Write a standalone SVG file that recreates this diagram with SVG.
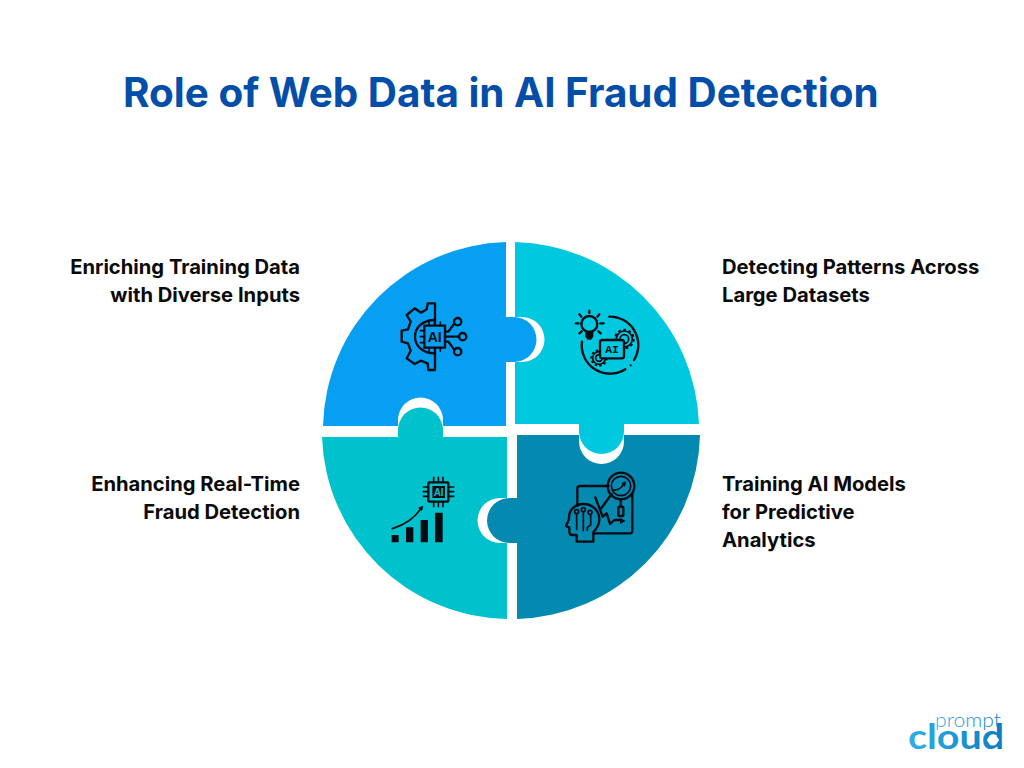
<svg xmlns="http://www.w3.org/2000/svg" width="1024" height="768" viewBox="0 0 1024 768">
<style>
.lbl{font-family:Inter,"Liberation Sans",sans-serif;font-weight:700;font-size:20.2px;fill:#0a0a0a}
.r{text-anchor:end}
.ln{fill:none;stroke:#020c12;stroke-width:7;stroke-linecap:round;stroke-linejoin:round}
.th{fill:none;stroke:#020c12;stroke-width:5;stroke-linecap:round;stroke-linejoin:round}
.ai{font-family:"Liberation Sans",sans-serif;font-weight:700;fill:#020c12;text-anchor:middle}
.fl{fill:#020c12}
</style>
<defs>
<linearGradient id="lg" x1="0" y1="0" x2="1" y2="0"><stop offset="0" stop-color="#2fb0e6"/><stop offset="1" stop-color="#0d7cc2"/></linearGradient>
</defs>
<rect width="1024" height="768" fill="#fff"/>
<text x="123" y="107" font-family="Inter,'Liberation Sans',sans-serif" font-weight="700" font-size="40.4" fill="#034ea8">Role of Web Data in AI Fraud Detection</text>

<g id="piece-top-left">
<path fill="#069ff2" d="M506,426H443V420A22.5,22.5 0 0 0 398,420V426H323A188.5,188.5 0 0 1 506,242V317H514A22.5,22.5 0 0 1 514,362H506Z"/>
<text class="lbl r" x="300" y="274">Enriching Training Data</text>
<text class="lbl r" x="300" y="302">with Diverse Inputs</text>
<g transform="translate(380 290) scale(.33333)">
<path class="ln" d="M165,40H143L140,58L123,68L104,55L80,75L92,95L84,118L65,122V155L84,160L92,182L80,205L104,222L122,212L143,220L145,240H165Z"/>
<path class="ln" d="M165,90C125,90 105,115 105,140C105,165 125,190 165,190"/>
<rect class="ln" x="133" y="107" width="62" height="66" style="fill:#069ff2"/>
<path class="th" d="M147,96V105M164,96V105M181,96V105M147,175V184M164,175V184M181,175V184M121,122H131M121,140H131M121,158H131"/>
<text class="ai" x="164" y="156" font-size="42">AI</text>
<path class="ln" d="M195,140H238M195,125H205L222,102M195,155H205L222,178"/>
<circle class="ln" cx="233" cy="95" r="11"/><circle class="ln" cx="248" cy="140" r="11"/><circle class="ln" cx="233" cy="185" r="11"/>
</g>
</g>

<g id="piece-top-right">
<path fill="#00c8de" d="M515,317V242A188.5,188.5 0 0 1 699,424H624V431.5A22.5,22.5 0 0 1 579,431.5V424H515V362H522A22.5,22.5 0 0 0 522,317Z"/>
<text class="lbl" x="722" y="274">Detecting Patterns Across</text>
<text class="lbl" x="722" y="302">Large Datasets</text>
<g transform="translate(380 290) scale(.33333)">
<circle class="ln" cx="628" cy="102" r="24"/>
<path class="fl" d="M616,124H640V140L633,149H623L616,140Z"/>
<path class="ln" d="M628,62V69M598,73L604,80M587,100H596M598,130L605,124M658,73L652,80M661,100H671M662,130L655,124"/>
<path class="ln" d="M688,80A85,85 0 0 1 762,210M736,238A85,85 0 0 1 606,155"/>
<circle class="fl" cx="752" cy="226" r="3.5"/>
<circle cx="733" cy="147" r="24" fill="none" stroke="#020c12" stroke-width="5"/>
<circle cx="733" cy="147" r="28" fill="none" stroke="#020c12" stroke-width="6" stroke-dasharray="8 8"/>
<circle cx="733" cy="147" r="13" fill="none" stroke="#020c12" stroke-width="5"/>
<circle cx="657" cy="204" r="19" fill="none" stroke="#020c12" stroke-width="5"/>
<circle cx="657" cy="204" r="23" fill="none" stroke="#020c12" stroke-width="6" stroke-dasharray="7 7"/>
<circle cx="657" cy="204" r="10" fill="none" stroke="#020c12" stroke-width="5"/>
<rect class="ln" x="660" y="150" width="72" height="55" rx="7" style="fill:#00c8de"/>
<text class="ai" x="696" y="189" font-size="34" style="font-family:'Liberation Mono',monospace">AI</text>
</g>
</g>

<g id="piece-bottom-left">
<path fill="#00c2cc" d="M507,437V498H500A22.5,22.5 0 0 0 500,543H507V619A188.5,188.5 0 0 1 322,437H398V430A22.5,22.5 0 0 1 443,430V437Z"/>
<text class="lbl r" x="300" y="491">Enhancing Real-Time</text>
<text class="lbl r" x="300" y="519">Fraud Detection</text>
<g transform="translate(380 290) scale(.33333)">
<path class="fl" d="M35,735H56V757H35ZM78,712H100V757H78ZM122,690H144V757H122ZM165,668H188V757H165Z"/>
<path class="th" d="M37,716Q95,698 124,654"/>
<path class="fl" d="M130,647L126,663L114,653Z"/>
<rect class="ln" x="145" y="577" width="60" height="58" rx="3"/>
<rect class="fl" x="157" y="588" width="38" height="36"/>
<path class="th" d="M161,562V575M175,562V575M189,562V575M161,637V650M175,637V650M189,637V650M130,591H143M130,605H143M130,619H143M207,591H221M207,605H221M207,619H221"/>
<text class="ai" x="176" y="617" font-size="30" style="fill:#00c2cc">AI</text>
</g>
</g>

<g id="piece-bottom-right">
<path fill="#0489b1" d="M517,435H579V441.5A22.5,22.5 0 0 0 624,441.5V435H700A188.5,188.5 0 0 1 517,619V543H509.5A22.5,22.5 0 0 1 509.5,498H517Z"/>
<text class="lbl" x="722" y="491">Training AI Models</text>
<text class="lbl" x="722" y="519">for Predictive</text>
<text class="lbl" x="722" y="547">Analytics</text>
<g transform="translate(380 290) scale(.33333)">
<path class="ln" d="M685,588H600Q592,588 592,596V648M757,612V722Q757,730 749,730H642"/>
<circle class="ln" cx="723" cy="588" r="40"/><circle class="th" cx="723" cy="588" r="29"/>
<rect class="ln" x="715" y="650" width="15" height="28" rx="4"/>
<path class="ln" d="M722,628V650"/>
<path class="th" d="M698,600Q720,602 733,580"/><path class="fl" d="M738,574L735,590L724,580Z"/>
<path class="ln" d="M646,622L668,680M660,660L695,612M668,680L680,670L690,702L703,690H725"/><path class="fl" d="M737,693L720,684V702Z"/>
<path class="ln" d="M640,755V726C655,712 658,700 658,688C658,660 635,642 610,642C585,642 565,660 567,688L558,708L568,713V725Q568,735 578,735H590V755Z"/>
<path class="th" d="M590,675V718M610,668V722M632,675V705L622,712V722"/>
<circle class="th" cx="590" cy="665" r="6"/><circle class="th" cx="610" cy="659" r="6"/><circle class="th" cx="630" cy="667" r="6"/>
</g>
</g>

<g id="logo">
<text x="935" y="727" font-family="Lato,'Open Sans',sans-serif" font-weight="300" font-size="20" fill="url(#lg)" textLength="66" lengthAdjust="spacingAndGlyphs">prompt</text>
<text x="908" y="749" font-family="Lato,'Open Sans',sans-serif" font-weight="700" font-size="34" fill="url(#lg)" textLength="96" lengthAdjust="spacingAndGlyphs">cloud</text>
<ellipse cx="993" cy="740" rx="6" ry="3.5" fill="#fff"/>
</g>
</svg>
